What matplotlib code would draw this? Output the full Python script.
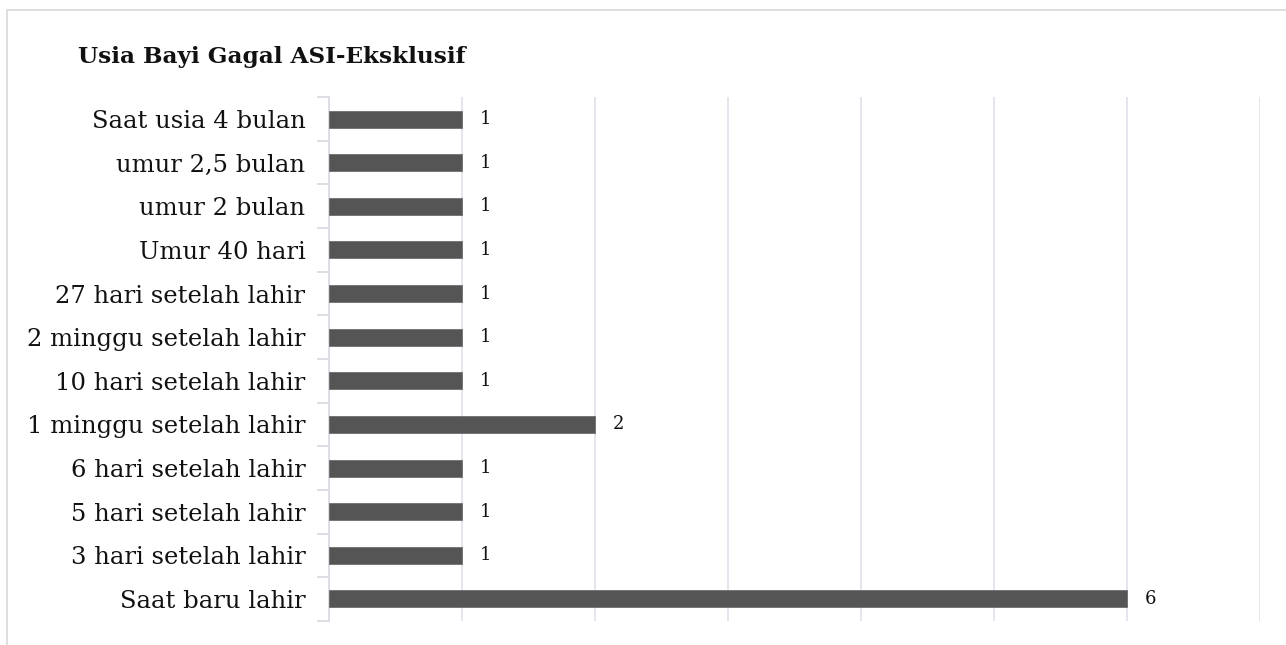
import matplotlib
matplotlib.use("Agg")
import matplotlib.pyplot as plt
from matplotlib.patches import Rectangle
import numpy as np

categories = ["Saat baru lahir", "3 hari setelah lahir", "5 hari setelah lahir",
              "6 hari setelah lahir", "1 minggu setelah lahir", "10 hari setelah lahir",
              "2 minggu setelah lahir", "27 hari setelah lahir", "Umur 40 hari",
              "umur 2 bulan", "umur 2,5 bulan", "Saat usia 4 bulan"]
values = [6, 1, 1, 1, 2, 1, 1, 1, 1, 1, 1, 1]
title = "Usia Bayi Gagal ASI-Eksklusif"

plt.rcParams['font.family'] = ['DejaVu Serif']

W, H = 1286, 645
fig = plt.figure(figsize=(W/100, H/100), dpi=100)
fig.patches.append(Rectangle((7/W, -0.1), 1.2, 1 - 10/H + 0.1, transform=fig.transFigure,
                             fill=False, edgecolor='#d9d9d9', linewidth=1.2))

ax = fig.add_axes([329/W, 24.2/H, (1260-329)/W, (620.8-97.2)/H])
y = np.arange(len(categories))
ax.barh(y, values, height=0.39, color='#555555', edgecolor='#6e6e6e', linewidth=0.6, zorder=3)
ax.set_xlim(0, 7)
ax.set_ylim(-0.5, len(categories) - 0.5)
ax.set_xticks(np.arange(0, 8))
ax.xaxis.grid(True, color='#e1e4ea', linewidth=1.3, zorder=0)
ax.tick_params(axis='x', length=0, labelbottom=False)
ax.set_yticks(y)
ax.set_yticklabels(categories, fontsize=17.5, color='#111111')
ax.tick_params(axis='y', which='major', length=0, pad=17)
ax.set_yticks(np.arange(-0.5, len(categories)), minor=True)
ax.tick_params(axis='y', which='minor', length=9, color='#d9dde3', width=1.3)
for s in ['top', 'right', 'bottom']:
    ax.spines[s].set_visible(False)
ax.spines['left'].set_color('#d9dde3')
ax.spines['left'].set_linewidth(1.3)

for yi, v in zip(y, values):
    ax.annotate(str(v), (v, yi), xytext=(13, 0), textcoords='offset points',
                va='center', ha='left', fontsize=13, color='#111111')

fig.text(78/W, 1 - 57/H, title, fontsize=16.7, fontweight='bold', va='center', ha='left',
         color='#111111')

fig.savefig("out.png", dpi=100)
